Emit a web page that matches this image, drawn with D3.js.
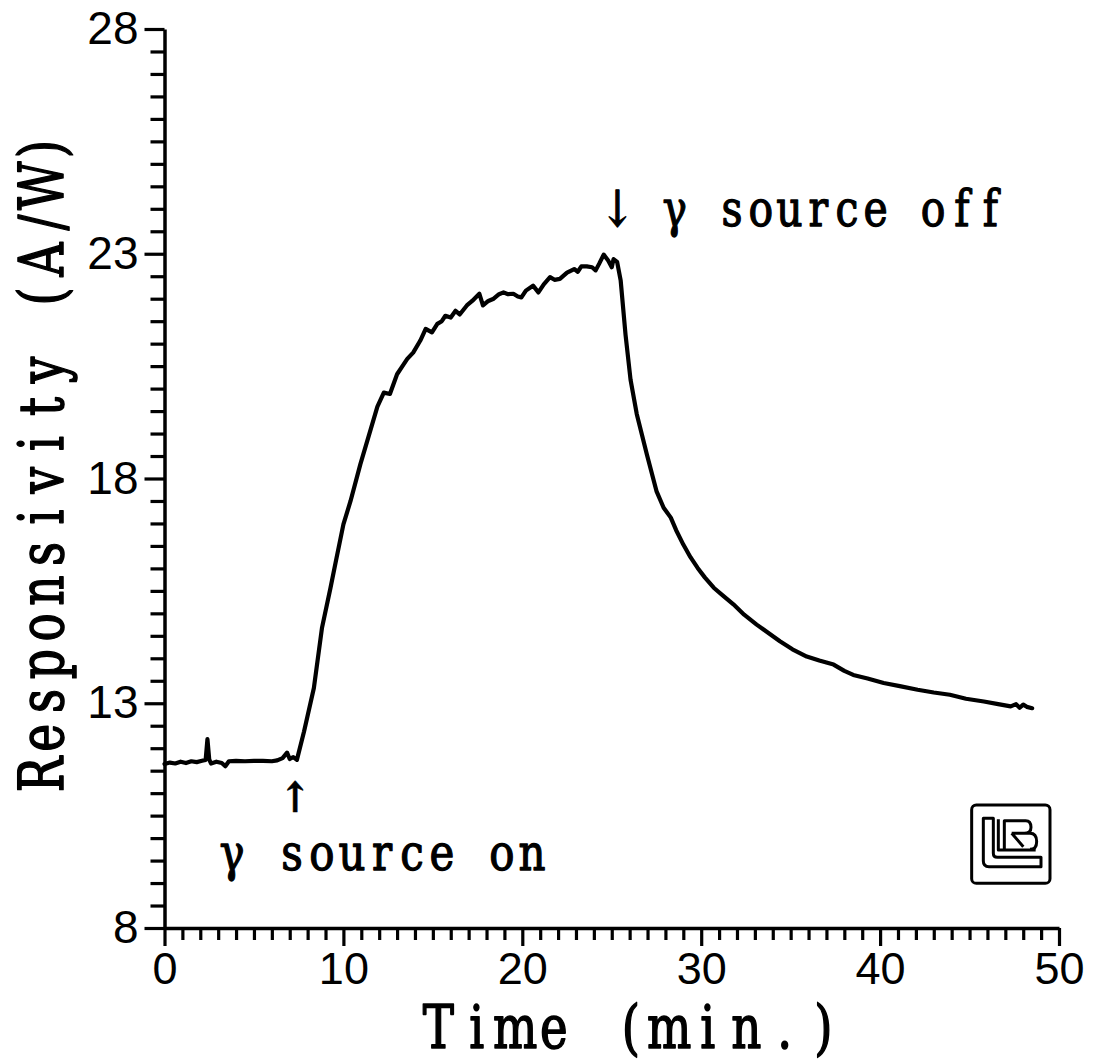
<!DOCTYPE html>
<html><head><meta charset="utf-8">
<script src="https://cdn.jsdelivr.net/npm/d3@7"></script>
<style>html,body{margin:0;padding:0;background:#fff;}</style>
</head><body>
<svg id="chart" width="1094" height="1064"></svg>
<script>
// ---- data ----
const timeMin = [0,0.3,0.6,0.9,1.2,1.5,1.8,2.1,2.3,2.4,2.5,2.6,2.9,3.2,3.4,3.6,4,4.5,5,5.5,6,6.3,6.6,6.85,7.0,7.2,7.4,
  7.8,8.35,8.8,9.28,9.6,10.0,10.4,10.95,11.5,11.9,12.26,12.6,13.0,13.3,13.57,13.9,14.3,14.6,14.95,15.25,15.5,15.7,16.0,16.27,16.5,16.9,17.2,17.6,17.8,18.1,18.4,18.7,18.95,19.2,19.5,19.75,19.95,20.2,20.6,20.9,21.2,21.55,21.8,22.1,22.5,22.9,23.1,23.3,23.6,23.9,24.1,24.3,24.55,24.8,25.0,25.1,25.3,25.5,
  25.77,26.05,26.4,26.96,27.5,27.9,28.3,28.6,29.0,29.4,29.8,30.2,30.7,31.2,31.8,32.4,33.1,33.7,34.4,35.1,35.9,36.6,37.4,38.0,38.5,39.3,40.2,41.1,42.1,43.0,43.9,44.8,45.8,46.6,47.3,47.6,47.8,48.0,48.2,48.5];
const responsivity = [11.65,11.68,11.66,11.7,11.67,11.71,11.69,11.72,11.74,12.2,11.75,11.66,11.7,11.67,11.6,11.71,11.72,11.71,11.72,11.72,11.71,11.73,11.78,11.9,11.76,11.8,11.74,
  12.37,13.34,14.67,15.57,16.2,16.98,17.5,18.32,19.06,19.6,19.91,19.88,20.32,20.5,20.66,20.8,21.07,21.33,21.25,21.44,21.5,21.62,21.58,21.73,21.65,21.85,21.95,22.11,21.85,21.95,22.0,22.1,22.14,22.1,22.11,22.05,22.03,22.18,22.29,22.14,22.32,22.48,22.42,22.44,22.58,22.66,22.6,22.72,22.72,22.7,22.63,22.78,22.98,22.85,22.7,22.88,22.82,22.4,
  21.2,20.2,19.43,18.54,17.72,17.35,17.13,16.85,16.53,16.25,16.01,15.8,15.57,15.4,15.2,14.97,14.75,14.58,14.38,14.2,14.04,13.95,13.86,13.72,13.63,13.55,13.45,13.38,13.3,13.24,13.19,13.1,13.04,12.98,12.93,12.98,12.9,12.97,12.92,12.89];
const xMajorTicks = [0,10,20,30,40,50];
const yMajorTicks = [8,13,18,23,28];
const xTitle = "Time (min.)";
const yTitle = "Responsivity (A/W)";
const annotOff = "↓ γ source off";
const annotOn = "γ source on";
const annotOnArrow = "↑";
const annotOnTime = 7.3;

// ---- layout ----
const svg = d3.select("#chart");
const x = d3.scaleLinear().domain([0,50]).range([164.5,1059]);
const y = d3.scaleLinear().domain([8,28]).range([928,29]);
const serif = "'DejaVu Serif', 'Liberation Serif', serif";
const sans = "'Liberation Sans', Arial, sans-serif";

const xMinor = d3.range(0,51,1).filter(v=>v%10!==0);
const yMinor = d3.range(8,28.01,0.5).filter(v=>v%5!==3);

function styleAxis(g){
  g.select(".domain").attr("stroke","#000").attr("stroke-width",3.5);
  g.selectAll(".tick line").attr("stroke","#000").attr("stroke-width",3.2);
}

// x axis
const gx = svg.append("g").attr("transform",`translate(0,${y(8)})`);
gx.call(d3.axisBottom(x).tickValues(xMajorTicks).tickSize(18).tickSizeOuter(0).tickFormat(d3.format("d")))
  .call(styleAxis);
gx.selectAll(".tick text").attr("font-family",sans).attr("font-size",45).attr("fill","#000").attr("y",24).attr("dy","0.71em");
const gxm = svg.append("g").attr("transform",`translate(0,${y(8)})`);
gxm.call(d3.axisBottom(x).tickValues(xMinor).tickSize(12).tickFormat(""));
gxm.select(".domain").remove();
gxm.selectAll(".tick line").attr("stroke","#000").attr("stroke-width",3.2);

// y axis
const gy = svg.append("g").attr("transform",`translate(${x(0)},0)`);
gy.call(d3.axisLeft(y).tickValues(yMajorTicks).tickSize(20).tickSizeOuter(0).tickFormat(d3.format("d")))
  .call(styleAxis);
gy.selectAll(".tick text").attr("font-family",sans).attr("font-size",46).attr("fill","#000").attr("x",-26);
const gym = svg.append("g").attr("transform",`translate(${x(0)},0)`);
gym.call(d3.axisLeft(y).tickValues(yMinor).tickSize(14).tickFormat(""));
gym.select(".domain").remove();
gym.selectAll(".tick line").attr("stroke","#000").attr("stroke-width",3.2);

// data line
const pts = timeMin.map((t,i)=>[t,responsivity[i]]);
svg.append("path").datum(pts)
  .attr("d", d3.line().x(d=>x(d[0])).y(d=>y(d[1])))
  .attr("fill","none").attr("stroke","#000").attr("stroke-width",4.2)
  .attr("stroke-linejoin","round").attr("stroke-linecap","round");

// monospaced-grid text in a typewriter style
function gridText(str, x0, base, pitch, fs, sx, rotate, weight, sw){
  const chars = [...str];
  const g = svg.append("g").attr("transform",
    `translate(${x0},${base})` + (rotate ? " rotate(-90)" : "") + ` scale(${sx},1)`);
  g.append("text")
    .attr("x", chars.map((c,i)=>((i+0.5)*pitch/sx).toFixed(1)).join(" "))
    .attr("y", 0).attr("text-anchor","middle")
    .attr("font-family", serif).attr("font-size", fs).attr("fill","#000")
    .attr("font-weight", weight || "normal")
    .attr("stroke","#000").attr("stroke-width", sw == null ? 1.6 : sw).attr("stroke-linejoin","round")
    .text(str);
  return g;
}

// axis titles
gridText(xTitle, 419, 1048, 38.5, 60, 0.78);
gridText(yTitle, 63, 793, 36.8, 62, 0.76, true);

// annotations
gridText(annotOff, 603, 226, 28.7, 50, 0.82, false, "normal", 1.3);
gridText(annotOn, 217, 870, 30, 50, 0.84, false, "normal", 1.3);
gridText(annotOnArrow, x(annotOnTime) - 15, 812, 30, 42, 0.9, false, "bold", 0.5);

// logo (LBL)
const logo = svg.append("g").attr("transform","translate(965,800) scale(0.3333)")
  .attr("fill","none").attr("stroke","#000").attr("stroke-width",9).attr("stroke-linejoin","round");
logo.append("rect").attr("x",20).attr("y",15).attr("width",235).attr("height",235).attr("rx",14);
logo.append("path").attr("d","M55,55 L85,55 L85,160 Q85,172 97,172 L228,172 L228,200 L72,200 Q55,200 55,183 Z");
logo.append("path").attr("d","M100,58 L100,150 L212,150");
logo.append("path").attr("d","M118,150 L118,62 L182,62 Q198,62 198,82 Q198,100 178,100 L140,100 M160,100 L195,100 Q215,100 215,125 Q215,148 195,148 M140,100 L175,140");
</script>
</body></html>
